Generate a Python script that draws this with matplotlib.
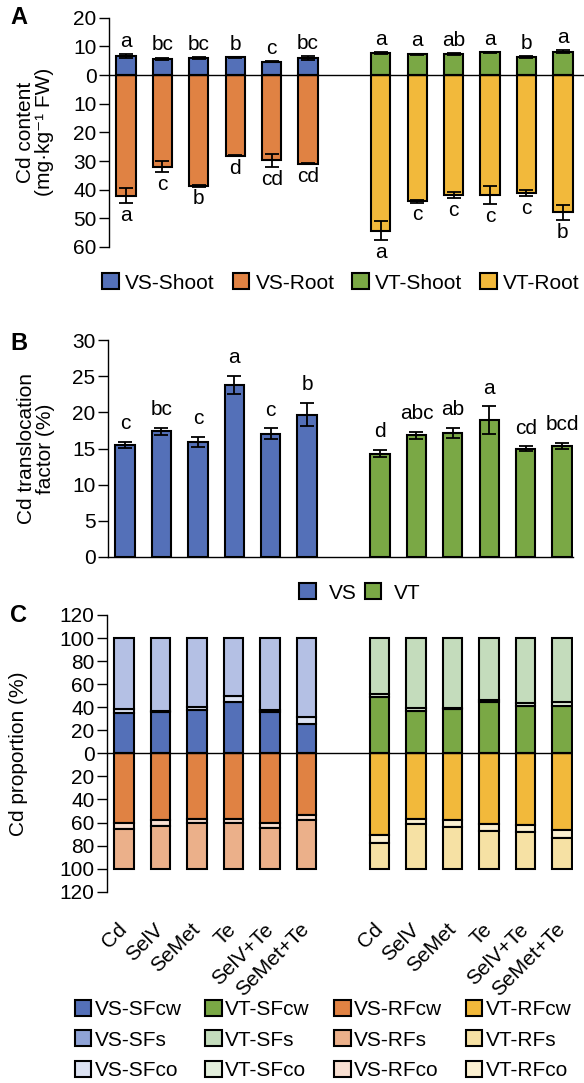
import matplotlib
matplotlib.use('Agg')
import matplotlib.pyplot as plt
import numpy as np
from matplotlib.patches import Patch
from matplotlib.ticker import FuncFormatter

plt.rcParams['font.family'] = ['Liberation Sans', 'DejaVu Sans']

treatments = ['Cd', 'SelV', 'SeMet', 'Te', 'SelV+Te', 'SeMet+Te']

# ---------------- Panel A: Cd content (mg/kg FW)
vs_shoot = [6.7, 5.6, 5.9, 6.2, 4.7, 5.9]
vs_shoot_err = [0.7, 0.5, 0.4, 0.2, 0.2, 0.8]
vs_root = [42.1, 32.0, 38.6, 28.2, 29.7, 30.9]
vs_root_err = [2.7, 1.9, 0.3, 0.2, 2.3, 0.3]
vt_shoot = [7.7, 7.3, 7.3, 7.9, 6.2, 8.2]
vt_shoot_err = [0.2, 0.2, 0.3, 0.2, 0.4, 0.5]
vt_root = [54.4, 44.1, 41.8, 41.8, 41.2, 47.9]
vt_root_err = [3.3, 0.4, 1.0, 3.1, 1.1, 2.6]
vs_shoot_letters = ['a', 'bc', 'bc', 'b', 'c', 'bc']
vt_shoot_letters = ['a', 'a', 'ab', 'a', 'b', 'a']
vs_root_letters = ['a', 'c', 'b', 'd', 'cd', 'cd']
vt_root_letters = ['a', 'c', 'c', 'c', 'c', 'b']

# ---------------- Panel B: translocation factor (%)
vs_tf = [15.5, 17.4, 15.9, 23.8, 17.05, 19.7]
vs_tf_err = [0.4, 0.5, 0.7, 1.25, 0.75, 1.6]
vt_tf = [14.3, 16.8, 17.2, 18.9, 15.0, 15.4]
vt_tf_err = [0.5, 0.5, 0.7, 1.95, 0.3, 0.4]
vs_tf_letters = ['c', 'bc', 'c', 'a', 'c', 'b']
vt_tf_letters = ['d', 'abc', 'ab', 'a', 'cd', 'bcd']

# ---------------- Panel C: Cd proportion (%)
vs_sfcw = [34.6, 35.5, 37.9, 44.9, 36.2, 25.4]
vs_sfco = [3.5, 1.5, 2.5, 5.2, 1.8, 5.8]
vs_sfs = [61.9, 63.0, 59.6, 49.9, 62.0, 68.8]
vt_sfcw = [49.3, 37.0, 38.5, 44.3, 40.8, 41.4]
vt_sfco = [2.3, 2.0, 1.2, 2.0, 2.5, 3.5]
vt_sfs = [48.4, 61.0, 60.3, 53.7, 56.7, 55.1]
vs_rfcw = [60.4, 57.5, 56.6, 57.2, 60.1, 53.7]
vs_rfco = [5.0, 5.8, 3.8, 3.2, 4.4, 3.8]
vs_rfs = [34.6, 36.7, 39.6, 39.6, 35.5, 42.5]
vt_rfcw = [70.4, 56.6, 58.0, 61.0, 62.5, 66.9]
vt_rfco = [7.3, 5.0, 5.9, 6.4, 5.8, 6.4]
vt_rfs = [22.3, 38.4, 36.1, 32.6, 31.7, 26.7]

# colours
C_VS_S = '#5470b8'
C_VS_R = '#e08243'
C_VT_S = '#7aa845'
C_VT_R = '#f2b93b'
C_VS_SFs_bar = '#b4c0e4'
C_VS_SFs_leg = '#8fa3d6'
C_VS_SFco = '#dce2f2'
C_VT_SFs = '#c4dcbc'
C_VT_SFco = '#e3efdc'
C_VS_RFs = '#ebb08a'
C_VS_RFco = '#f8dfd1'
C_VT_RFs = '#f6e1a4'
C_VT_RFco = '#fbf0d0'

W, H = 584, 1083
fig = plt.figure(figsize=(W / 100, H / 100), dpi=100)

FS = 15
EDGE = 1.5
BW = 0.53
vs_x = np.arange(6)
vt_x = np.arange(7, 13)


def ax_at(left, right, top, bottom):
    return fig.add_axes([left / W, 1 - bottom / H, (right - left) / W, (bottom - top) / H])


def style_left(ax):
    for s in ['top', 'right', 'bottom']:
        ax.spines[s].set_visible(False)
    ax.spines['left'].set_linewidth(1.0)
    ax.tick_params(axis='y', direction='out', length=7, width=1.0, labelsize=FS, pad=2)
    ax.tick_params(axis='x', length=0)


absfmt = FuncFormatter(lambda v, p: f'{abs(v):g}')

# ================= Panel A
axA = ax_at(109, 584, 17.7, 247)
style_left(axA)
ekw = dict(fmt='none', ecolor='black', elinewidth=1.3, capsize=5, capthick=1.3)
axA.bar(vs_x, vs_shoot, BW, color=C_VS_S, edgecolor='black', linewidth=EDGE)
axA.bar(vs_x, -np.array(vs_root), BW, color=C_VS_R, edgecolor='black', linewidth=EDGE)
axA.bar(vt_x, vt_shoot, BW, color=C_VT_S, edgecolor='black', linewidth=EDGE)
axA.bar(vt_x, -np.array(vt_root), BW, color=C_VT_R, edgecolor='black', linewidth=EDGE)
axA.errorbar(vs_x, vs_shoot, yerr=vs_shoot_err, **ekw)
axA.errorbar(vt_x, vt_shoot, yerr=vt_shoot_err, **ekw)
axA.errorbar(vs_x, -np.array(vs_root), yerr=vs_root_err, **ekw)
axA.errorbar(vt_x, -np.array(vt_root), yerr=vt_root_err, **ekw)
for xs, vals, errs, labs in [(vs_x, vs_shoot, vs_shoot_err, vs_shoot_letters),
                             (vt_x, vt_shoot, vt_shoot_err, vt_shoot_letters)]:
    for x, v, e, l in zip(xs, vals, errs, labs):
        axA.text(x, v + e + 1.1, l, ha='center', va='bottom', fontsize=FS)
for xs, vals, errs, labs in [(vs_x, vs_root, vs_root_err, vs_root_letters),
                             (vt_x, vt_root, vt_root_err, vt_root_letters)]:
    for x, v, e, l in zip(xs, vals, errs, labs):
        axA.text(x, -(v + e + 1.0), l, ha='center', va='top', fontsize=FS)
axA.axhline(0, color='black', linewidth=1.0)
axA.set_ylim(-60, 20)
axA.set_xlim(-0.467, 12.58)
axA.set_yticks(np.arange(-60, 21, 10))
axA.yaxis.set_major_formatter(absfmt)
axA.set_xticks([])
axA.set_ylabel('Cd content\n(mg·kg⁻¹ FW)', fontsize=FS, linespacing=1.0)
axA.yaxis.set_label_coords(-0.116, 0.5)
fig.text(10 / W, 1 - 18 / H, 'A', fontsize=17, fontweight='bold', va='center')

fig.legend(handles=[Patch(facecolor=C_VS_S, edgecolor='black', linewidth=EDGE, label='VS-Shoot'),
                    Patch(facecolor=C_VS_R, edgecolor='black', linewidth=EDGE, label='VS-Root'),
                    Patch(facecolor=C_VT_S, edgecolor='black', linewidth=EDGE, label='VT-Shoot'),
                    Patch(facecolor=C_VT_R, edgecolor='black', linewidth=EDGE, label='VT-Root')],
           ncol=4, frameon=False, loc='center', bbox_to_anchor=(341 / W, 1 - 283 / H),
           fontsize=FS, handlelength=0.8, handleheight=0.8, handletextpad=0.3,
           columnspacing=0.85, borderaxespad=0)

# ================= Panel B
axB = ax_at(108, 573, 340, 557)
style_left(axB)
axB.spines['bottom'].set_visible(True)
axB.spines['bottom'].set_linewidth(1.0)
axB.bar(vs_x, vs_tf, BW, color=C_VS_S, edgecolor='black', linewidth=EDGE)
axB.bar(vt_x, vt_tf, BW, color=C_VT_S, edgecolor='black', linewidth=EDGE)
axB.errorbar(vs_x, vs_tf, yerr=vs_tf_err, **ekw)
axB.errorbar(vt_x, vt_tf, yerr=vt_tf_err, **ekw)
for xs, vals, errs, labs in [(vs_x, vs_tf, vs_tf_err, vs_tf_letters),
                             (vt_x, vt_tf, vt_tf_err, vt_tf_letters)]:
    for x, v, e, l in zip(xs, vals, errs, labs):
        axB.text(x, v + e + 1.2, l, ha='center', va='bottom', fontsize=FS)
axB.set_ylim(0, 30)
axB.set_xlim(-0.467, 12.3)
axB.set_yticks(np.arange(0, 31, 5))
axB.set_xticks([])
axB.set_ylabel('Cd translocation\nfactor (%)', fontsize=FS, linespacing=1.0)
axB.yaxis.set_label_coords(-0.114, 0.5)
fig.text(10 / W, 1 - 343 / H, 'B', fontsize=17, fontweight='bold', va='center')

fig.legend(handles=[Patch(facecolor=C_VS_S, edgecolor='black', linewidth=EDGE, label='VS'),
                    Patch(facecolor=C_VT_S, edgecolor='black', linewidth=EDGE, label='VT')],
           ncol=2, frameon=False, loc='center', bbox_to_anchor=(360 / W, 1 - 593 / H),
           fontsize=FS, handlelength=0.8, handleheight=0.8, handletextpad=0.6,
           columnspacing=0.4, borderaxespad=0)

# ================= Panel C
axC = ax_at(107, 573, 615, 891.7)
style_left(axC)
kw = dict(width=BW, edgecolor='black', linewidth=EDGE)
axC.bar(vs_x, vs_sfcw, color=C_VS_S, **kw)
axC.bar(vs_x, vs_sfco, bottom=vs_sfcw, color=C_VS_SFco, **kw)
axC.bar(vs_x, vs_sfs, bottom=np.add(vs_sfcw, vs_sfco), color=C_VS_SFs_bar, **kw)
axC.bar(vt_x, vt_sfcw, color=C_VT_S, **kw)
axC.bar(vt_x, vt_sfco, bottom=vt_sfcw, color=C_VT_SFco, **kw)
axC.bar(vt_x, vt_sfs, bottom=np.add(vt_sfcw, vt_sfco), color=C_VT_SFs, **kw)
axC.bar(vs_x, -np.array(vs_rfcw), color=C_VS_R, **kw)
axC.bar(vs_x, -np.array(vs_rfco), bottom=-np.array(vs_rfcw), color=C_VS_RFco, **kw)
axC.bar(vs_x, -np.array(vs_rfs), bottom=-np.add(vs_rfcw, vs_rfco), color=C_VS_RFs, **kw)
axC.bar(vt_x, -np.array(vt_rfcw), color=C_VT_R, **kw)
axC.bar(vt_x, -np.array(vt_rfco), bottom=-np.array(vt_rfcw), color=C_VT_RFco, **kw)
axC.bar(vt_x, -np.array(vt_rfs), bottom=-np.add(vt_rfcw, vt_rfco), color=C_VT_RFs, **kw)
axC.axhline(0, color='black', linewidth=1.0)
axC.set_ylim(-120, 120)
axC.set_xlim(-0.467, 12.3)
axC.set_yticks(np.arange(-120, 121, 20))
axC.yaxis.set_major_formatter(absfmt)
axC.set_xticks(list(vs_x) + list(vt_x))
axC.set_xticklabels(treatments + treatments, rotation=45, ha='right', va='center',
                    rotation_mode='anchor', fontsize=FS)
axC.tick_params(axis='x', length=0, pad=25)
axC.set_ylabel('Cd proportion (%)', fontsize=FS)
axC.yaxis.set_label_coords(-0.17, 0.5)
fig.text(10 / W, 1 - 616 / H, 'C', fontsize=17, fontweight='bold', va='center')

leg_items = [('VS-SFcw', C_VS_S), ('VS-SFs', C_VS_SFs_leg), ('VS-SFco', C_VS_SFco),
             ('VT-SFcw', C_VT_S), ('VT-SFs', C_VT_SFs), ('VT-SFco', C_VT_SFco),
             ('VS-RFcw', C_VS_R), ('VS-RFs', C_VS_RFs), ('VS-RFco', C_VS_RFco),
             ('VT-RFcw', C_VT_R), ('VT-RFs', C_VT_RFs), ('VT-RFco', C_VT_RFco)]
fig.legend(handles=[Patch(facecolor=c, edgecolor='black', linewidth=EDGE, label=l) for l, c in leg_items],
           ncol=4, frameon=False, loc='center', bbox_to_anchor=(323 / W, 1 - 1040 / H),
           fontsize=FS, handlelength=0.8, handleheight=0.8, handletextpad=0.15,
           columnspacing=1.15, labelspacing=0.55, borderaxespad=0)

fig.savefig('out.png', dpi=100)
